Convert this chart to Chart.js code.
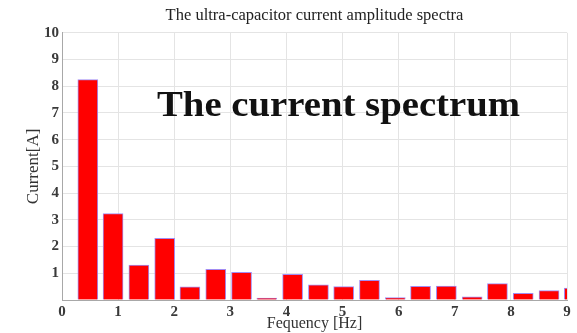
<!DOCTYPE html>
<html>
<head>
<meta charset="utf-8">
<title>Ultra-capacitor current spectrum</title>
<script src="https://cdn.jsdelivr.net/npm/chart.js@4"></script>
<style>
  html, body { margin: 0; padding: 0; background: #fff; }
  canvas { display: block; }
</style>
</head>
<body>
<canvas id="spectrumChart" width="577" height="333"></canvas>
<script>
// Harmonic frequencies [Hz] and current amplitudes [A]
const frequencies = [0.46, 0.91, 1.37, 1.83, 2.28, 2.74, 3.20, 3.65, 4.11, 4.57,
                     5.02, 5.48, 5.94, 6.39, 6.85, 7.31, 7.76, 8.22, 8.68, 9.13];
const amplitudes = [8.25, 3.23, 1.31, 2.31, 0.49, 1.15, 1.04, 0.07, 0.96, 0.57,
                    0.50, 0.74, 0.09, 0.51, 0.52, 0.12, 0.61, 0.25, 0.35, 0.45];
const xTicks = [0, 1, 2, 3, 4, 5, 6, 7, 8, 9];
const yTicks = [0, 1, 2, 3, 4, 5, 6, 7, 8, 9, 10];

const serif = "'Liberation Serif', 'Times New Roman', serif";

// Big caption written over the plot, stretched to a fixed width
const captionPlugin = {
    id: 'caption',
    afterDraw(chart) {
        const c = chart.ctx;
        const text = 'The current spectrum';
        c.save();
        c.font = "bold 35px " + serif;
        c.fillStyle = '#111';
        c.textBaseline = 'alphabetic';
        const w = c.measureText(text).width;
        c.translate(157, 116);
        c.scale(363 / w, 1);
        c.fillText(text, 0, 0);
        c.restore();
    }
};

const ctx = document.getElementById('spectrumChart').getContext('2d');
new Chart(ctx, {
    type: 'bar',
    data: {
        datasets: [{
            label: 'Current amplitude',
            data: frequencies.map((f, i) => ({ x: f, y: amplitudes[i] })),
            backgroundColor: '#ff0000',
            borderColor: '#a28cf2',
            borderWidth: 1,
            borderSkipped: 'bottom',
            barThickness: 20
        }]
    },
    options: {
        responsive: false,
        animation: false,
        layout: { padding: { top: 0, right: 10, bottom: 0, left: 0 } },
        plugins: {
            legend: { display: false },
            tooltip: { enabled: false },
            title: {
                display: true,
                fullSize: false,
                text: 'The ultra-capacitor current amplitude spectra',
                color: '#222',
                font: { family: serif, size: 16.5, weight: 'normal', lineHeight: 1.2 },
                padding: { top: 6, bottom: 7 }
            }
        },
        scales: {
            x: {
                type: 'linear',
                min: 0,
                max: 9,
                offset: false,
                afterBuildTicks: s => { s.ticks = xTicks.map(v => ({ value: v })); },
                afterFit: s => { s.height = 33; },
                grid: { color: '#e4e4e4', drawTicks: false, offset: false },
                border: { color: '#a8a8a8' },
                ticks: {
                    color: '#3a3a3a',
                    padding: 3,
                    maxRotation: 0,
                    font: { family: serif, size: 15, weight: 'bold' }
                },
                title: {
                    display: true,
                    text: 'Fequency [Hz]',
                    color: '#333',
                    font: { family: serif, size: 16 },
                    padding: { top: 0, bottom: 0 }
                }
            },
            y: {
                min: 0,
                max: 10,
                afterBuildTicks: s => { s.ticks = yTicks.map(v => ({ value: v })); },
                afterFit: s => { s.width = 62; },
                grid: { color: '#e4e4e4', drawTicks: false },
                border: { color: '#a8a8a8' },
                ticks: {
                    color: '#3a3a3a',
                    padding: 3,
                    font: { family: serif, size: 15, weight: 'bold' },
                    callback: v => (v === 0 ? '' : v)
                },
                title: {
                    display: true,
                    text: 'Current[A]',
                    color: '#333',
                    font: { family: serif, size: 17 },
                    padding: { top: 23, bottom: 0 }
                }
            }
        }
    },
    plugins: [captionPlugin]
});
</script>
</body>
</html>
